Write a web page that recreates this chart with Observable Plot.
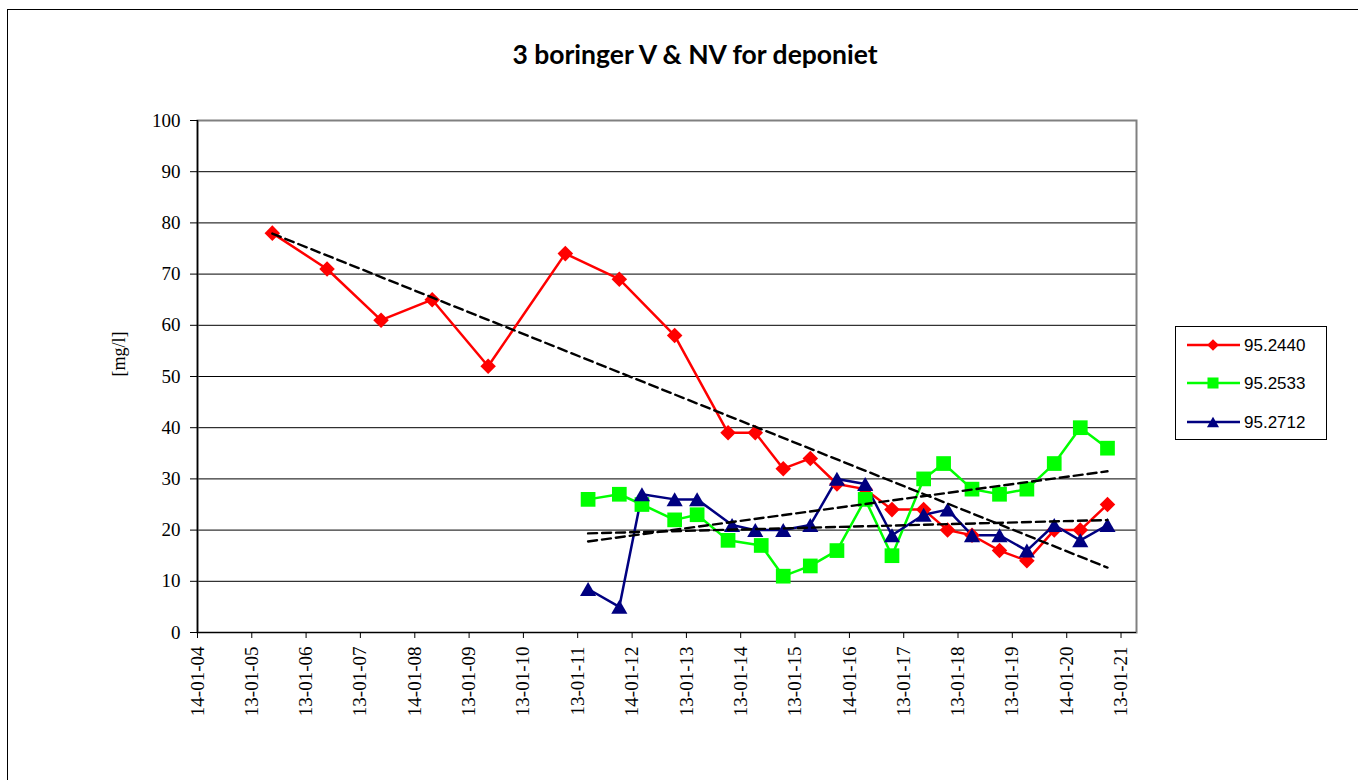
<!DOCTYPE html>
<html>
<head>
<meta charset="utf-8">
<script src="https://cdn.jsdelivr.net/npm/d3@7"></script>
<script src="https://cdn.jsdelivr.net/npm/@observablehq/plot@0.6"></script>
<style>
  body { margin: 0; background: #fff; }
  #wrap { position: relative; width: 1358px; height: 780px; overflow: hidden; background: #fff; }
  #border { position: absolute; left: 7px; top: 9px; width: 1400px; height: 820px; border: 1.5px solid #000; box-sizing: border-box; }
  #title { position: absolute; top: 41px; left: 695px; transform: translateX(-50%); white-space: nowrap; line-height: 1;
           font-family: Lato, "Open Sans", sans-serif; font-weight: 700; font-size: 26.5px; color: #000; }
  #chart { position: absolute; left: 0; top: 0; }
  #legend { position: absolute; left: 1175px; top: 326px; }
</style>
</head>
<body>
<div id="wrap">
  <div id="border"></div>
  <div id="chart"></div>
  <div id="title">3 boringer V &amp; NV for deponiet</div>
  <div id="legend"></div>
</div>
<script>
// ---- Data ----
const seriesNames = ["95.2440", "95.2533", "95.2712"];
const seriesColors = ["#ff0000", "#00ff00", "#000080"];
const seriesSymbols = ["diamond2", "square", "triangle"];

const datesA = ["2005-05-31","2006-06-03","2007-06-01","2008-05-10","2009-05-21","2010-10-22","2011-10-20","2012-10-26",
                "2013-10-20","2014-04-21","2014-10-26","2015-04-26","2015-10-22","2016-04-29","2016-10-26","2017-05-27",
                "2017-11-04","2018-04-17","2018-10-19","2019-04-21","2019-10-22","2020-04-14","2020-10-14"];
const valuesA = [78, 71, 61, 65, 52, 74, 69, 58, 39, 39, 32, 34, 29, 28, 24, 24, 20, 19, 16, 14, 20, 20, 25];

const datesB = ["2011-03-24","2011-10-20","2012-03-20","2012-10-26","2013-03-26","2013-10-20","2014-05-31","2014-10-26",
                "2015-04-26","2015-10-22","2016-04-29","2016-10-26","2017-05-27","2017-10-08","2018-04-17","2018-10-19",
                "2019-04-21","2019-10-22","2020-04-14","2020-10-14"];
const valuesB = [26, 27, 25, 22, 23, 18, 17, 11, 13, 16, 26, 15, 30, 33, 28, 27, 28, 33, 40, 36];

const datesC = ["2011-03-24","2011-10-20","2012-03-20","2012-10-26","2013-03-26","2013-11-16","2014-04-21","2014-10-26",
                "2015-04-26","2015-10-22","2016-04-29","2016-10-26","2017-05-27","2017-11-04","2018-04-17","2018-10-19",
                "2019-04-21","2019-10-22","2020-04-14","2020-10-14"];
const valuesC = [8.5, 5, 27, 26, 26, 21, 20, 20, 21, 30, 29, 19, 23, 24, 19, 19, 16, 21, 18, 21];

const xTickLabels = ["14-01-04","13-01-05","13-01-06","13-01-07","14-01-08","13-01-09","13-01-10","13-01-11","14-01-12",
                     "13-01-13","13-01-14","13-01-15","14-01-16","13-01-17","13-01-18","13-01-19","14-01-20","13-01-21"];
const yTicks = [0, 10, 20, 30, 40, 50, 60, 70, 80, 90, 100];
const xDomain = ["2004-01-14", "2021-04-27"];
const yLabel = "[mg/l]";

// ---- Build ----
const parseTick = d3.utcParse("%d-%m-%y");
const fmtTick = d3.utcFormat("%d-%m-%y");
const tickDates = xTickLabels.map(parseTick);
const mk = (dates, values, name) => dates.map((d, i) => ({date: new Date(d), value: values[i], series: name}));
const series = [mk(datesA, valuesA, seriesNames[0]), mk(datesB, valuesB, seriesNames[1]), mk(datesC, valuesC, seriesNames[2])];
const dotR = [7, 8.3, 6];
const dotDy = [0, 0, 2.3];

const serif = "'Liberation Serif', 'Times New Roman', serif";

const marks = [
  Plot.gridY(yTicks.filter(d => d > 0 && d < 100), {stroke: "#000", strokeOpacity: 1, strokeWidth: 1}),
  Plot.frame({stroke: "#808080", strokeWidth: 2}),
  Plot.ruleY([0], {stroke: "#000", strokeWidth: 1.2}),
  Plot.ruleX([new Date(xDomain[0])], {stroke: "#000", strokeWidth: 1.5}),
  Plot.axisY({ticks: yTicks, tickSize: 7, tickPadding: 10, fontSize: 19, fontFamily: serif, label: null, stroke: "#000", color: "#000"}),
  Plot.axisX({ticks: tickDates, tickFormat: d => xTickLabels[tickDates.findIndex(t => +t === +d)] ?? fmtTick(d),
              tickRotate: -90, tickSize: 6, tickPadding: 8, fontSize: 19, fontFamily: serif, label: null, stroke: "#000", color: "#000"}),
  Plot.text([yLabel], {frameAnchor: "left", dx: -78, rotate: -90, fontSize: 18, fontFamily: serif, fill: "#000"})
];
series.forEach((data, i) => {
  marks.push(Plot.line(data, {x: "date", y: "value", stroke: seriesColors[i], strokeWidth: 2.5}));
});
series.forEach((data, i) => {
  marks.push(Plot.dot(data, {x: "date", y: "value", symbol: seriesSymbols[i], r: dotR[i], fill: seriesColors[i], stroke: "none", dy: dotDy[i]}));
});
series.forEach((data) => {
  marks.push(Plot.linearRegressionY(data, {x: "date", y: "value", stroke: "#000", strokeWidth: 2.4, strokeDasharray: "9,5", ci: 0}));
});

const chart = Plot.plot({
  width: 1358, height: 780,
  marginLeft: 197, marginRight: 222, marginTop: 120, marginBottom: 148,
  x: {type: "utc", domain: xDomain.map(d => new Date(d))},
  y: {domain: [0, 100]},
  style: {background: "transparent", overflow: "visible"},
  marks
});
document.getElementById("chart").appendChild(chart);

// ---- Legend ----
const lw = 152, lh = 114;
const lsvg = d3.select("#legend").append("svg").attr("width", lw).attr("height", lh);
lsvg.append("rect").attr("x", 0.5).attr("y", 0.5).attr("width", lw - 1).attr("height", lh - 1)
  .attr("fill", "#fff").attr("stroke", "#000").attr("stroke-width", 1);
const symMap = {diamond2: d3.symbolDiamond2, square: d3.symbolSquare, triangle: d3.symbolTriangle};
const rowY = [19, 57, 96];
seriesNames.forEach((name, i) => {
  const g = lsvg.append("g").attr("transform", `translate(0,${rowY[i]})`);
  g.append("line").attr("x1", 12).attr("x2", 65).attr("y1", 0).attr("y2", 0).attr("stroke", seriesColors[i]).attr("stroke-width", 2.5);
  const size = Math.PI * (dotR[i] * 0.75) ** 2;
  g.append("path").attr("d", d3.symbol(symMap[seriesSymbols[i]], size)()).attr("transform", `translate(38,${dotDy[i] * 0.75})`).attr("fill", seriesColors[i]);
  g.append("text").attr("x", 69).attr("y", 0).attr("dy", "0.35em").attr("font-family", "'Liberation Sans', Arial, sans-serif")
    .attr("font-size", 17).attr("fill", "#000").text(name);
});
</script>
</body>
</html>
